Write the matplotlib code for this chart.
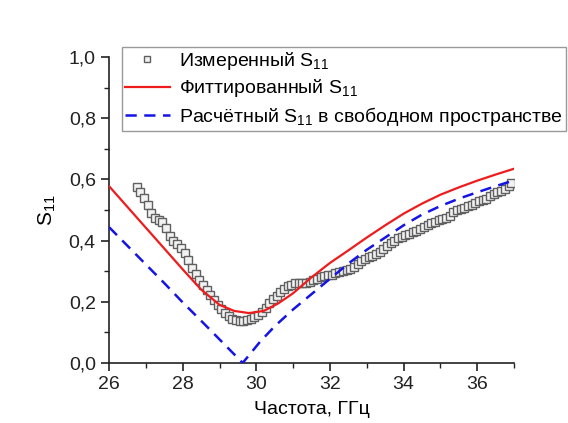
import numpy as np
import matplotlib
matplotlib.use('Agg')
from matplotlib import pyplot as plt
from matplotlib.ticker import MultipleLocator, FuncFormatter

plt.rcParams['font.family'] = ['Liberation Sans', 'DejaVu Sans']
plt.rcParams['mathtext.fontset'] = 'custom'
plt.rcParams['mathtext.rm'] = 'Liberation Sans'
plt.rcParams['mathtext.it'] = 'Liberation Sans'

f_meas = [26.76, 26.85, 26.95, 27.05, 27.15, 27.25, 27.35, 27.45, 27.55, 27.65,
          27.75, 27.85, 27.95, 28.05, 28.15, 28.25, 28.35, 28.45, 28.55, 28.65,
          28.75, 28.85, 28.95, 29.05, 29.15, 29.25, 29.35, 29.45, 29.55, 29.65,
          29.75, 29.85, 29.95, 30.05, 30.15, 30.25, 30.35, 30.45, 30.55, 30.65,
          30.75, 30.85, 30.95, 31.05, 31.15, 31.25, 31.35, 31.45, 31.55, 31.65,
          31.75, 31.85, 31.95, 32.05, 32.15, 32.25, 32.35, 32.45, 32.55, 32.65,
          32.75, 32.85, 32.95, 33.05, 33.15, 33.25, 33.35, 33.45, 33.55, 33.65,
          33.75, 33.85, 33.95, 34.05, 34.15, 34.25, 34.35, 34.45, 34.55, 34.65,
          34.75, 34.85, 34.95, 35.05, 35.15, 35.25, 35.35, 35.45, 35.55, 35.65,
          35.75, 35.85, 35.95, 36.05, 36.15, 36.25, 36.35, 36.45, 36.55, 36.65,
          36.75, 36.85, 36.92]
s_meas = [0.575, 0.56, 0.54, 0.515, 0.49, 0.475, 0.468, 0.462, 0.44, 0.415,
          0.40, 0.39, 0.375, 0.36, 0.335, 0.31, 0.29, 0.27, 0.255, 0.24,
          0.222, 0.205, 0.19, 0.175, 0.162, 0.152, 0.145, 0.14, 0.138, 0.138,
          0.14, 0.145, 0.15, 0.158, 0.167, 0.18, 0.195, 0.208, 0.22, 0.232,
          0.242, 0.25, 0.256, 0.26, 0.262, 0.262, 0.263, 0.265, 0.27, 0.276,
          0.281, 0.284, 0.286, 0.289, 0.293, 0.297, 0.30, 0.303, 0.307, 0.313,
          0.322, 0.332, 0.34, 0.345, 0.35, 0.355, 0.362, 0.372, 0.382, 0.392,
          0.40, 0.408, 0.413, 0.418, 0.423, 0.428, 0.433, 0.438, 0.443, 0.45,
          0.457, 0.462, 0.466, 0.47, 0.475, 0.482, 0.492, 0.499, 0.504, 0.507,
          0.512, 0.518, 0.524, 0.529, 0.532, 0.537, 0.545, 0.552, 0.558, 0.562,
          0.57, 0.58, 0.587]

# fitted S11
f_fit = [26, 26.5, 27, 27.5, 28, 28.5, 29, 29.4, 29.8, 30.2, 30.6, 31, 31.5,
         32, 32.5, 33, 33.5, 34, 34.5, 35, 35.5, 36, 36.5, 37]
s_fit = [0.578, 0.51, 0.442, 0.374, 0.306, 0.24, 0.19, 0.17, 0.163, 0.17, 0.195,
         0.228, 0.28, 0.327, 0.368, 0.41, 0.45, 0.488, 0.521, 0.55, 0.574, 0.596,
         0.616, 0.635]

# calculated S11 in free space
f_calc = [26, 26.5, 27, 27.5, 28, 28.5, 29, 29.63, 30.1, 30.5, 31, 31.5, 32,
          32.5, 33, 33.5, 34, 34.5, 35, 35.5, 36, 36.5, 37]
s_calc = [0.444, 0.383, 0.322, 0.261, 0.198, 0.138, 0.077, 0.0, 0.069, 0.12,
          0.175, 0.225, 0.275, 0.325, 0.37, 0.41, 0.45, 0.485, 0.513, 0.537,
          0.558, 0.578, 0.597]

fig = plt.figure(figsize=(5.68, 4.23), dpi=100)
ax = fig.add_axes([0.192, 0.142, 0.713, 0.723])

ax.plot(f_meas, s_meas, 's', ms=6.3, mfc='#f2f2f2', mec='#606060', mew=1.0,
        label='Измеренный S$_{11}$', zorder=2)
ax.plot(f_fit, s_fit, '-', color='#ee1c1c', lw=1.6,
        label='Фиттированный S$_{11}$', zorder=3)
ax.plot(f_calc, s_calc, '--', color='#1414e6', lw=1.8, dashes=(4.5, 3),
        label='Расчётный S$_{11}$ в свободном пространстве', zorder=3)

ax.set_xlim(26, 37)
ax.set_ylim(0, 1.0)
ax.xaxis.set_major_locator(MultipleLocator(2))
ax.xaxis.set_minor_locator(MultipleLocator(1))
ax.yaxis.set_major_locator(MultipleLocator(0.2))
ax.yaxis.set_minor_locator(MultipleLocator(0.1))
ax.yaxis.set_major_formatter(FuncFormatter(lambda v, p: ('%.1f' % v).replace('.', ',')))

for side in ['top', 'right']:
    ax.spines[side].set_visible(False)
for side in ['left', 'bottom']:
    ax.spines[side].set_linewidth(1.2)
    ax.spines[side].set_color('#222222')
ax.tick_params(which='major', direction='out', length=6, width=1.2, labelsize=14, colors='#222222')
ax.tick_params(which='minor', direction='out', length=3.5, width=1.0, colors='#222222')

ax.set_xlabel('Частота, ГГц', fontsize=14, labelpad=6)
ax.set_ylabel('S$_{11}$', fontsize=15, labelpad=8)

leg = ax.legend(loc='upper left', bbox_to_anchor=(122 / 568, 1 - 47 / 423),
                bbox_transform=fig.transFigure, fontsize=14, fancybox=False,
                edgecolor='#999999', framealpha=1, handlelength=2.3, markerscale=0.6,
                borderpad=0.15, labelspacing=0.28, handletextpad=0.5, borderaxespad=0)
leg.get_frame().set_linewidth(1.0)

fig.savefig('out.png', dpi=100)
